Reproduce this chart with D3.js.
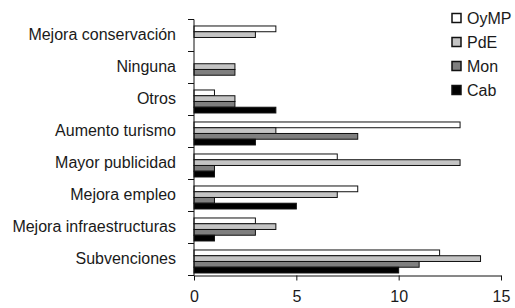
<!DOCTYPE html>
<html><head><meta charset="utf-8">
<script src="https://cdn.jsdelivr.net/npm/d3@7"></script>
<style>body{margin:0;background:#fff}svg{display:block}text{font-family:"Liberation Sans",Arial,sans-serif;fill:#1a1a1a}</style>
</head><body><svg id="c" width="515" height="308"></svg>
<script>
const categories = ["Mejora conservación","Ninguna","Otros","Aumento turismo","Mayor publicidad","Mejora empleo","Mejora infraestructuras","Subvenciones"];
const seriesNames = ["OyMP","PdE","Mon","Cab"];
const OyMP = [4,0,1,13,7,8,3,12];
const PdE  = [3,2,2,4,13,7,4,14];
const Mon  = [0,2,2,8,1,1,3,11];
const Cab  = [0,0,4,3,1,5,1,10];
const xTicks = [0,5,10,15];
const colors = ["#ffffff","#c4c4c4","#7f7f7f","#000000"];
const values = [OyMP,PdE,Mon,Cab];

const svg = d3.select("#c");
const x = d3.scaleLinear().domain([0,15]).range([194,501]);
const y = d3.scaleBand().domain(categories).range([19.5,275.5]).padding(0);
const ys = d3.scaleBand().domain(seriesNames).range([0,y.bandwidth()]).paddingInner(0).paddingOuter(0.783).align(0.72);

// bars
seriesNames.forEach((s,si)=>{
  svg.append("g").selectAll("rect").data(categories).join("rect")
    .attr("x", x(0))
    .attr("y", c => y(c)+ys(s))
    .attr("width", (c,i) => x(values[si][i]) - x(0))
    .attr("height", ys.bandwidth())
    .attr("fill", colors[si])
    .attr("stroke", (c,i)=> values[si][i] > 0 ? "#111" : "none")
    .attr("stroke-width", 1);
});

// y axis
const gy = svg.append("g");
gy.append("line").attr("x1",x(0)).attr("x2",x(0)).attr("y1",19.5).attr("y2",275.5).attr("stroke","#111");
const bounds = categories.map(c=>y(c)).concat([y.range()[1]]);
gy.selectAll("line.t").data(bounds).join("line").attr("class","t")
  .attr("x1",x(0)-6).attr("x2",x(0)).attr("y1",d=>d).attr("y2",d=>d).attr("stroke","#111");
gy.selectAll("text").data(categories).join("text")
  .attr("x",176).attr("y",c=>y(c)+y.bandwidth()/2-1).attr("dy","0.35em")
  .attr("text-anchor","end").attr("font-size",16).text(d=>d);

// x axis
const gx = svg.append("g").attr("transform","translate(0,275.5)");
gx.call(d3.axisBottom(x).tickValues(xTicks).tickSize(5).tickSizeOuter(0).tickPadding(10));
gx.select(".domain").attr("stroke","#111");
gx.selectAll(".tick line").attr("stroke","#111");
gx.selectAll(".tick text").attr("font-size",16).attr("fill","#1a1a1a").style("font-family","'Liberation Sans',Arial,sans-serif");

// legend
const lg = svg.append("g");
seriesNames.forEach((s,i)=>{
  const cy = 18 + i*24;
  lg.append("rect").attr("x",452).attr("y",cy-4.5).attr("width",9).attr("height",9)
    .attr("fill",colors[i]).attr("stroke","#111").attr("stroke-width",1.5);
  lg.append("text").attr("x",467).attr("y",cy).attr("dy","0.35em").attr("font-size",16).text(s);
});
</script></body></html>
